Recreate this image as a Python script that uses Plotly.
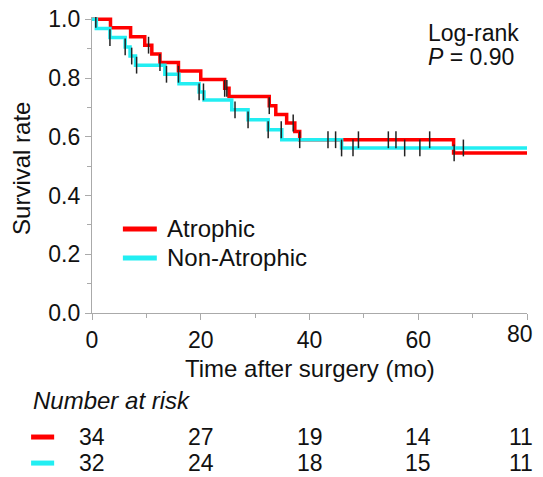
import plotly.graph_objects as go

# ---- data ----
red_times = [0, 3.4, 7.1, 9.7, 11.0, 12.5, 15.9, 20.0, 24.4, 25.2, 32.6, 33.8, 35.8, 37.3, 38.2, 66.5]
red_surv = [1.0, 0.971, 0.941, 0.912, 0.882, 0.853, 0.824, 0.795, 0.765, 0.737, 0.706, 0.676, 0.647, 0.618, 0.590, 0.545]
red_censor = [10.4, 12.5, 24.4, 24.8, 32.6, 37.0, 38.2, 49.0, 54.5, 55.9, 62.1, 66.6]

cyan_times = [0, 0.8, 3.3, 6.1, 7.0, 8.0, 13.4, 16.0, 19.7, 20.6, 25.7, 28.7, 32.4, 34.9, 45.9]
cyan_surv = [1.0, 0.969, 0.938, 0.906, 0.875, 0.844, 0.813, 0.781, 0.753, 0.725, 0.692, 0.658, 0.624, 0.590, 0.562]
cyan_censor = [0.7, 3.3, 6.1, 7.3, 8.2, 13.7, 15.9, 19.7, 20.5, 26.3, 28.7, 32.4, 34.8, 43.4, 44.8, 45.9, 48.0, 57.5, 60.3, 68.3]

follow_end = 80

risk_times = [0, 20, 40, 60, 80]
risk_atrophic = [34, 27, 19, 14, 11]
risk_nonatrophic = [32, 24, 18, 15, 11]

series_names = ["Atrophic", "Non-Atrophic"]
y_ticks = [0, 0.2, 0.4, 0.6, 0.8, 1.0]
y_ticktext = ["0.0", "0.2", "0.4", "0.6", "0.8", "1.0"]

RED = "#ff0000"
CYAN = "#22eef2"
TXT = "#111111"
FONT = "Liberation Sans, Arial, sans-serif"
FS = 23
FS_BIG = 24


def surv_at(times, surv, t):
    s = surv[0]
    for ti, si in zip(times, surv):
        if ti <= t:
            s = si
    return s


fig = go.Figure()

for times, surv, color, name in [
    (red_times, red_surv, RED, series_names[0]),
    (cyan_times, cyan_surv, CYAN, series_names[1]),
]:
    fig.add_trace(go.Scatter(
        x=times + [follow_end], y=surv + [surv[-1]], name=name,
        mode="lines", line=dict(color=color, width=3.5, shape="hv"),
        showlegend=False, hoverinfo="skip"))

for times, surv, censor in [(red_times, red_surv, red_censor), (cyan_times, cyan_surv, cyan_censor)]:
    fig.add_trace(go.Scatter(
        x=censor, y=[surv_at(times, surv, t) for t in censor],
        mode="markers",
        marker=dict(symbol="line-ns", size=12, line=dict(color="#222222", width=1.5)),
        showlegend=False, hoverinfo="skip"))


def txt(x, y, text, xref="paper", xanchor="left", size=FS, angle=0, xshift=0):
    return dict(x=x, y=y, xref=xref, yref="paper", text=text, showarrow=False,
                xanchor=xanchor, yanchor="middle", textangle=angle, xshift=xshift,
                font=dict(size=size, color=TXT, family=FONT))


annotations = []
shapes = []

# legend inside plot
for (ly, color, name) in [(0.284, RED, series_names[0]), (0.186, CYAN, series_names[1])]:
    shapes.append(dict(type="line", xref="paper", yref="paper", x0=0.071, x1=0.149,
                       y0=ly, y1=ly, line=dict(color=color, width=5)))
    annotations.append(txt(0.168, ly, name, size=FS_BIG))

# axis titles
annotations.append(txt(0.5, -0.186, "Time after surgery (mo)", xanchor="center", size=FS_BIG))
annotations.append(txt(-0.161, 0.49, "Survival rate", xanchor="center", size=FS_BIG, angle=-90))

# last x tick label kept inside the visible page edge
x_ticktext = [str(t) for t in risk_times]
last_label = x_ticktext[-1]
x_ticktext[-1] = ""
annotations.append(txt(risk_times[-1], -0.07, last_label, xref="x", xanchor="right", xshift=8))

# risk table
annotations.append(txt(-0.14, -0.294, "<i>Number at risk</i>", size=FS_BIG))
for row_y, values, color in [(-0.419, risk_atrophic, RED), (-0.507, risk_nonatrophic, CYAN)]:
    shapes.append(dict(type="line", xref="paper", yref="paper", x0=-0.14, x1=-0.087,
                       y0=row_y, y1=row_y, line=dict(color=color, width=5)))
    for t, v in zip(risk_times, values):
        if t == risk_times[-1]:
            annotations.append(txt(t, row_y, str(v), xref="x", xanchor="right", xshift=8))
        else:
            annotations.append(txt(t, row_y, str(v), xref="x", xanchor="center"))

# log-rank text
annotations.append(txt(0.768, 0.946, "Log-rank"))
annotations.append(txt(0.768, 0.865, "<i>P</i> = 0.90"))

fig.update_layout(
    width=535, height=469,
    margin=dict(l=84, r=16, t=9, b=164, autoexpand=False),
    paper_bgcolor="white", plot_bgcolor="white",
    font=dict(family=FONT, size=FS, color=TXT),
    showlegend=False,
    annotations=annotations,
    shapes=shapes,
)

fig.update_xaxes(
    range=[0, 80], tickvals=risk_times, ticktext=x_ticktext,
    showgrid=False, zeroline=False, automargin=False,
    showline=True, linecolor="#aaaaaa", linewidth=1.2,
    ticks="outside", ticklen=6, tickcolor="#aaaaaa", ticklabeloverflow="allow",
    minor=dict(dtick=10, ticks="outside", ticklen=4, tickcolor="#aaaaaa"),
    tickfont=dict(size=FS, family=FONT, color=TXT),
)
fig.update_yaxes(
    range=[0, 1.008], tickvals=y_ticks, ticktext=y_ticktext,
    showgrid=False, zeroline=False, automargin=False,
    showline=True, linecolor="#aaaaaa", linewidth=1.2,
    ticks="outside", ticklen=6, tickcolor="#aaaaaa", ticklabeloverflow="allow",
    minor=dict(dtick=0.1, ticks="outside", ticklen=4, tickcolor="#aaaaaa"),
    tickfont=dict(size=FS, family=FONT, color=TXT),
)

fig.write_html("out.html")
